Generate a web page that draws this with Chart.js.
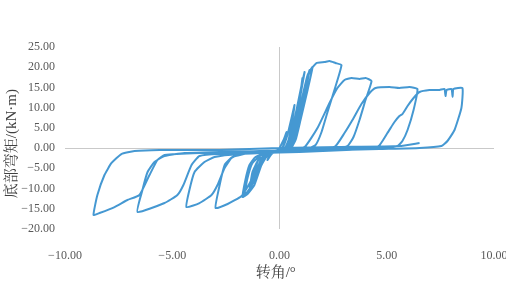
<!DOCTYPE html>
<html><head><meta charset="utf-8">
<script src="https://cdn.jsdelivr.net/npm/chart.js@4/dist/chart.umd.min.js"></script>
<style>html,body{margin:0;padding:0;background:#fff}</style>
</head><body>
<canvas id="c" width="506" height="284"></canvas>
<script>
// rotation (deg) and bottom moment (kN·m), per loading cycle
const cycle1Rot = [0, 0.19, 0.33, 0.23, 0.09, -0.23, -0.47, -0.56, -0.37, -0.09, 0.14];
const cycle1Mom = [0, 2.00, 3.98, 1.51, -0.22, -0.72, -1.95, -2.94, -1.46, -0.47, 0.02];

const cycle2Rot = [0.37, 0.56, 0.70, 0.56, 0.42, 0.19, -0.47, -0.79, -0.98, -0.75, -0.37, 0.28];
const cycle2Mom = [3.24, 7.44, 10.66, 5.71, 2.00, -0.47, -0.96, -3.44, -5.91, -2.94, -1.21, 0.02];

const cycle3Rot = [0.56, 0.84, 1.03, 1.17, 0.98, 0.75, 0.56, 0.28, -0.56, -0.93, -1.17, -1.03, -0.79, -0.23, 0.37];
const cycle3Mom = [3.98, 10.66, 15.61, 18.82, 13.13, 5.71, 1.51, -0.47, -1.21, -4.18, -9.12, -4.92, -2.20, -0.96, 0.02];

const cycle3bRot = [0.56, 0.79, 0.98, 1.07, 0.93, 0.70, 0.51, 0.23, -0.65, -1.03, -1.31, -1.40, -1.26, -0.98, -0.47, 0.33];
const cycle3bMom = [2.00, 8.18, 13.87, 17.33, 11.89, 4.97, 1.26, -0.47, -1.21, -4.92, -8.43, -10.36, -5.91, -2.94, -1.21, 0.02];

const cycle4Rot = [0.75, 1.03, 1.31, 1.54, 1.31, 0.98, 0.75, 0.47, -0.47, -0.84, -1.17, -1.49, -1.72, -1.59, -1.40, -1.12, -0.56, 0.23, 0.56];
const cycle4Mom = [5.71, 11.89, 18.07, 20.05, 14.37, 6.95, 2.00, -0.47, -1.21, -4.18, -9.12, -11.35, -12.09, -7.89, -4.18, -2.20, -1.21, -0.47, 0.52];

const cycle4bRot = [0.84, 1.12, 1.40, 1.21, 0.93, 0.65, 0.37, -0.56, -0.93, -1.31, -1.63, -1.49, -1.26, -0.84, 0.23, 0.56];
const cycle4bMom = [6.45, 13.13, 19.31, 13.87, 6.45, 1.51, -0.47, -1.21, -4.92, -9.37, -11.60, -7.39, -3.68, -1.71, -0.47, 0.52];

const cycle5Rot = [0.93, 1.21, 1.45, 1.72, 2.10, 2.33, 2.61, 2.89, 2.56, 2.24, 1.96, 1.68, 1.17, 0.23, -0.84, -1.03, -1.31, -1.77, -2.42, -2.98, -2.84, -2.56, -2.19, -1.40, 0.47, 1.17];
const cycle5Mom = [8.18, 15.61, 19.31, 21.04, 21.29, 21.54, 21.04, 20.55, 14.37, 8.93, 3.98, 0.77, -0.47, -0.96, -1.46, -3.44, -7.89, -11.84, -13.82, -14.81, -10.36, -4.18, -2.20, -1.21, -0.47, 0.27];

const cycle6Rot = [1.77, 2.33, 2.70, 3.03, 3.36, 3.73, 4.01, 4.29, 4.01, 3.73, 3.45, 3.17, 2.33, 0.47, -1.86, -2.24, -2.56, -2.89, -3.17, -3.73, -4.34, -4.20, -3.96, -3.50, -3.03, -1.86, 0.93, 2.56];
const cycle6Mom = [4.97, 11.15, 14.86, 16.84, 17.33, 17.09, 17.33, 16.59, 11.89, 6.95, 2.74, 0.52, -0.47, -0.96, -1.46, -2.45, -4.92, -9.12, -11.60, -13.58, -14.57, -10.36, -5.91, -3.44, -2.20, -1.46, -0.72, 0.27];

const cycle7Rot = [3.03, 3.40, 3.82, 4.20, 4.48, 5.13, 5.59, 6.06, 6.43, 6.25, 5.97, 5.73, 5.50, 4.20, 0.93, -2.80, -3.73, -4.10, -4.48, -4.76, -5.36, -6.62, -6.39, -6.15, -5.83, -5.36, -4.43, -0.93, 2.33, 4.57];
const cycle7Mom = [3.73, 6.95, 10.90, 13.63, 14.86, 15.11, 14.86, 15.11, 14.62, 9.42, 4.48, 1.76, 0.52, -0.22, -0.96, -1.46, -1.95, -4.18, -9.12, -11.60, -13.58, -15.80, -10.36, -5.91, -3.44, -1.95, -1.21, -0.72, -0.22, 0.27];

const cycle8Rot = [5.03, 5.36, 5.59, 5.73, 5.97, 6.25, 6.53, 6.99, 7.46, 7.69, 7.74, 7.79, 8.02, 8.07, 8.11, 8.53, 8.48, 8.16, 7.83, 7.55, 6.53, 4.66, 0.93, -3.73, -5.36, -5.69, -6.06, -6.53, -7.09, -7.69, -8.39, -8.67, -8.49, -8.16, -7.83, -7.37, -6.76, -5.59, -2.80, 0, 2.80, 5.59, 6.53];
const cycle8Mom = [3.73, 6.45, 7.94, 8.43, 10.41, 12.39, 13.87, 14.37, 14.37, 14.62, 12.88, 14.37, 14.62, 12.64, 14.62, 14.86, 9.92, 4.48, 1.76, 0.52, 0.02, -0.22, -0.72, -1.21, -1.71, -2.94, -6.65, -11.60, -12.83, -14.57, -16.05, -16.54, -11.60, -6.65, -3.68, -1.46, -0.72, -0.47, -0.47, 0.02, 0.27, 0.52, 1.26];

const xTickValues = [-10, -5, 0, 5, 10];
const yTickValues = [-20, -15, -10, -5, 0, 5, 10, 15, 20, 25];
const xTitle = '转角/°';
const yTitle = '底部弯矩/(kN·m)';

const rotCycles = [cycle1Rot, cycle2Rot, cycle3Rot, cycle3bRot, cycle4Rot, cycle4bRot, cycle5Rot, cycle6Rot, cycle7Rot, cycle8Rot];
const momCycles = [cycle1Mom, cycle2Mom, cycle3Mom, cycle3bMom, cycle4Mom, cycle4bMom, cycle5Mom, cycle6Mom, cycle7Mom, cycle8Mom];
const points = [];
rotCycles.forEach((r, i) => r.forEach((x, j) => points.push({x: x, y: momCycles[i][j]})));

const fmt = v => (v < 0 ? '\u2212' : '') + Math.abs(v).toFixed(2);
const tickFont = {family: "'Liberation Serif', 'Times New Roman', serif", size: 12};
const titleFont = {family: "'Liberation Serif', 'Noto Serif CJK SC', 'Noto Sans CJK SC', serif", size: 15};
const zeroGrid = ctx => (ctx.tick && ctx.tick.value === 0) ? '#c9c9c9' : 'rgba(0,0,0,0)';

new Chart(document.getElementById('c'), {
  type: 'scatter',
  data: { datasets: [{
    data: points, showLine: true, borderColor: '#4598d2', borderWidth: 2,
    pointRadius: 0, tension: 0.15, fill: false
  }]},
  options: {
    responsive: false, animation: false,
    layout: { padding: {top: 47, right: 12, left: 0, bottom: 0} },
    plugins: { legend: {display: false}, tooltip: {enabled: false} },
    scales: {
      x: {
        type: 'linear', min: -10, max: 10,
        afterBuildTicks: s => { s.ticks = xTickValues.map(v => ({value: v})); },
        afterFit: s => { s.height = 55; s.paddingLeft = 0; s.paddingRight = 0; },
        grid: { color: zeroGrid, drawTicks: false, lineWidth: 1 },
        border: { display: false },
        ticks: { callback: fmt, font: tickFont, color: '#595959', padding: 20, maxRotation: 0 },
        title: { display: true, text: xTitle + '  ', font: titleFont, color: '#404040', padding: {top: 0, bottom: 2} }
      },
      y: {
        type: 'linear', min: -20, max: 25,
        afterBuildTicks: s => { s.ticks = yTickValues.map(v => ({value: v})); },
        afterFit: s => { s.width = 65; s.paddingTop = 0; s.paddingBottom = 0; },
        grid: { color: zeroGrid, drawTicks: false, lineWidth: 1 },
        border: { display: false },
        ticks: { callback: fmt, font: tickFont, color: '#595959', padding: 10 },
        title: { display: true, text: yTitle + '   ', font: titleFont, color: '#404040', padding: {top: 3, bottom: 0} }
      }
    }
  }
});
</script>
</body></html>
